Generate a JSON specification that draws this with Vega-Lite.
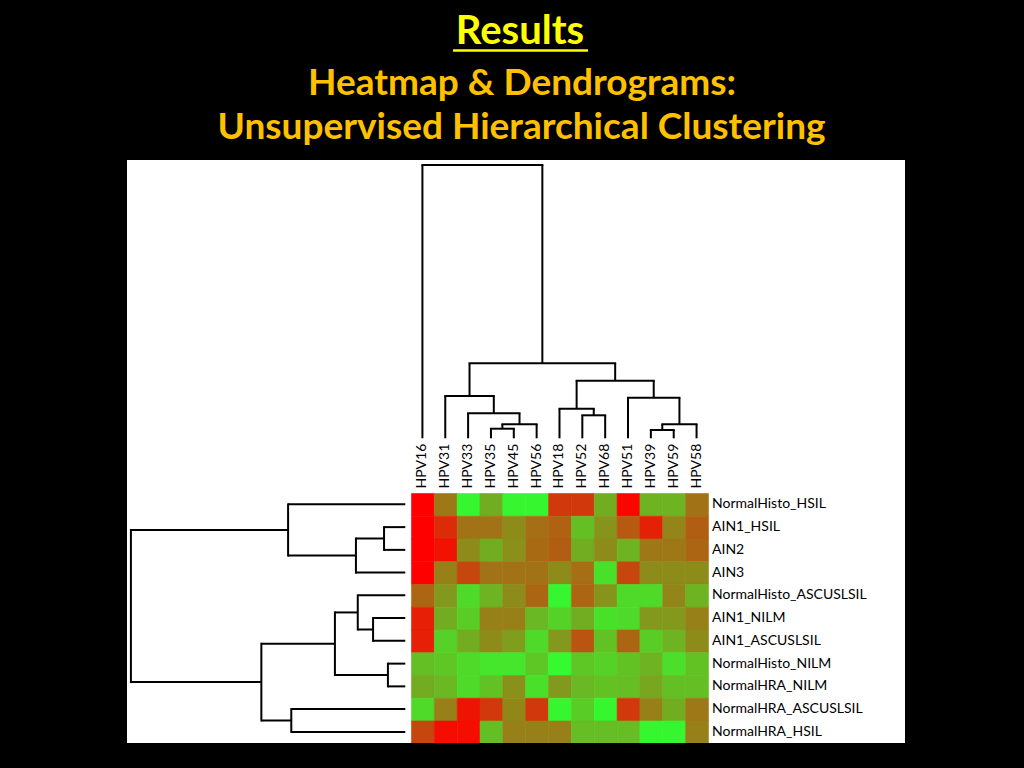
{
  "$schema": "https://vega.github.io/schema/vega-lite/v6.json",
  "width": 778,
  "height": 583,
  "autosize": {"type": "none"},
  "padding": {"left": 127, "top": 160, "right": 119, "bottom": 25},
  "background": "#000000",
  "datasets": {
    "cols": [
      {"col": "HPV16", "ci": 0, "cx": 0.5},
      {"col": "HPV31", "ci": 1, "cx": 1.5},
      {"col": "HPV33", "ci": 2, "cx": 2.5},
      {"col": "HPV35", "ci": 3, "cx": 3.5},
      {"col": "HPV45", "ci": 4, "cx": 4.5},
      {"col": "HPV56", "ci": 5, "cx": 5.5},
      {"col": "HPV18", "ci": 6, "cx": 6.5},
      {"col": "HPV52", "ci": 7, "cx": 7.5},
      {"col": "HPV68", "ci": 8, "cx": 8.5},
      {"col": "HPV51", "ci": 9, "cx": 9.5},
      {"col": "HPV39", "ci": 10, "cx": 10.5},
      {"col": "HPV59", "ci": 11, "cx": 11.5},
      {"col": "HPV58", "ci": 12, "cx": 12.5}
    ],
    "rows": [
      {"row": "NormalHisto_HSIL", "ri": 0, "ry": 0.5},
      {"row": "AIN1_HSIL", "ri": 1, "ry": 1.5},
      {"row": "AIN2", "ri": 2, "ry": 2.5},
      {"row": "AIN3", "ri": 3, "ry": 3.5},
      {"row": "NormalHisto_ASCUSLSIL", "ri": 4, "ry": 4.5},
      {"row": "AIN1_NILM", "ri": 5, "ry": 5.5},
      {"row": "AIN1_ASCUSLSIL", "ri": 6, "ry": 6.5},
      {"row": "NormalHisto_NILM", "ri": 7, "ry": 7.5},
      {"row": "NormalHRA_NILM", "ri": 8, "ry": 8.5},
      {"row": "NormalHRA_ASCUSLSIL", "ri": 9, "ry": 9.5},
      {"row": "NormalHRA_HSIL", "ri": 10, "ry": 10.5}
    ],
    "cells": [
      {"row": "NormalHisto_HSIL", "HPV16": 0, "HPV31": 0.47, "HPV33": 0.97, "HPV35": 0.68, "HPV45": 0.97, "HPV56": 0.97, "HPV18": 0.22, "HPV52": 0.22, "HPV68": 0.68, "HPV51": 0.02, "HPV39": 0.7, "HPV59": 0.7, "HPV58": 0.45},
      {"row": "AIN1_HSIL", "HPV16": 0, "HPV31": 0.17, "HPV33": 0.45, "HPV35": 0.45, "HPV45": 0.55, "HPV56": 0.43, "HPV18": 0.38, "HPV52": 0.75, "HPV68": 0.58, "HPV51": 0.35, "HPV39": 0.13, "HPV59": 0.52, "HPV58": 0.37},
      {"row": "AIN2", "HPV16": 0, "HPV31": 0.07, "HPV33": 0.55, "HPV35": 0.68, "HPV45": 0.57, "HPV56": 0.42, "HPV18": 0.37, "HPV52": 0.68, "HPV68": 0.55, "HPV51": 0.7, "HPV39": 0.47, "HPV59": 0.47, "HPV58": 0.4},
      {"row": "AIN3", "HPV16": 0, "HPV31": 0.5, "HPV33": 0.28, "HPV35": 0.45, "HPV45": 0.45, "HPV56": 0.45, "HPV18": 0.55, "HPV52": 0.43, "HPV68": 0.88, "HPV51": 0.28, "HPV39": 0.55, "HPV59": 0.55, "HPV58": 0.55},
      {"row": "NormalHisto_ASCUSLSIL", "HPV16": 0.4, "HPV31": 0.6, "HPV33": 0.85, "HPV35": 0.7, "HPV45": 0.55, "HPV56": 0.4, "HPV18": 0.97, "HPV52": 0.4, "HPV68": 0.58, "HPV51": 0.85, "HPV39": 0.85, "HPV59": 0.52, "HPV58": 0.7},
      {"row": "AIN1_NILM", "HPV16": 0.12, "HPV31": 0.68, "HPV33": 0.8, "HPV35": 0.5, "HPV45": 0.5, "HPV56": 0.72, "HPV18": 0.82, "HPV52": 0.68, "HPV68": 0.88, "HPV51": 0.85, "HPV39": 0.6, "HPV59": 0.6, "HPV58": 0.5},
      {"row": "AIN1_ASCUSLSIL", "HPV16": 0.12, "HPV31": 0.82, "HPV33": 0.68, "HPV35": 0.55, "HPV45": 0.62, "HPV56": 0.85, "HPV18": 0.6, "HPV52": 0.33, "HPV68": 0.76, "HPV51": 0.4, "HPV39": 0.8, "HPV59": 0.7, "HPV58": 0.55},
      {"row": "NormalHisto_NILM", "HPV16": 0.75, "HPV31": 0.78, "HPV33": 0.85, "HPV35": 0.9, "HPV45": 0.9, "HPV56": 0.78, "HPV18": 0.98, "HPV52": 0.78, "HPV68": 0.82, "HPV51": 0.76, "HPV39": 0.7, "HPV59": 0.87, "HPV58": 0.76},
      {"row": "NormalHRA_NILM", "HPV16": 0.68, "HPV31": 0.72, "HPV33": 0.85, "HPV35": 0.76, "HPV45": 0.57, "HPV56": 0.88, "HPV18": 0.6, "HPV52": 0.72, "HPV68": 0.76, "HPV51": 0.74, "HPV39": 0.65, "HPV59": 0.75, "HPV58": 0.75},
      {"row": "NormalHRA_ASCUSLSIL", "HPV16": 0.85, "HPV31": 0.5, "HPV33": 0.08, "HPV35": 0.22, "HPV45": 0.53, "HPV56": 0.22, "HPV18": 0.97, "HPV52": 0.8, "HPV68": 0.97, "HPV51": 0.22, "HPV39": 0.5, "HPV59": 0.68, "HPV58": 0.47},
      {"row": "NormalHRA_HSIL", "HPV16": 0.28, "HPV31": 0.05, "HPV33": 0.05, "HPV35": 0.75, "HPV45": 0.5, "HPV56": 0.5, "HPV18": 0.5, "HPV52": 0.74, "HPV68": 0.74, "HPV51": 0.74, "HPV39": 0.97, "HPV59": 0.97, "HPV58": 0.5}
    ],
    "colTree": [
      {"l": 3.5, "r": 4.5, "h": -2.826, "lh": -2.404, "rh": -2.404},
      {"l": 4.0, "r": 5.5, "h": -3.02, "lh": -2.826, "rh": -2.404},
      {"l": 2.5, "r": 4.75, "h": -3.503, "lh": -2.404, "rh": -3.02},
      {"l": 1.5, "r": 3.625, "h": -4.264, "lh": -2.404, "rh": -3.503},
      {"l": 7.5, "r": 8.5, "h": -3.415, "lh": -2.404, "rh": -2.404},
      {"l": 6.5, "r": 8.0, "h": -3.705, "lh": -2.404, "rh": -3.415},
      {"l": 10.5, "r": 11.5, "h": -2.769, "lh": -2.404, "rh": -2.404},
      {"l": 11.0, "r": 12.5, "h": -3.02, "lh": -2.769, "rh": -2.404},
      {"l": 9.5, "r": 11.75, "h": -4.189, "lh": -2.404, "rh": -3.02},
      {"l": 7.25, "r": 10.625, "h": -4.936, "lh": -3.705, "rh": -4.189},
      {"l": 2.5625, "r": 8.9375, "h": -5.701, "lh": -4.264, "rh": -4.936},
      {"l": 0.5, "r": 5.75, "h": -14.418, "lh": -2.404, "rh": -5.701}
    ],
    "rowTree": [
      {"l": 1.5, "r": 2.5, "h": -1.18, "lh": -0.25, "rh": -0.25},
      {"l": 2.0, "r": 3.5, "h": -2.41, "lh": -1.18, "rh": -0.25},
      {"l": 0.5, "r": 2.75, "h": -5.38, "lh": -0.25, "rh": -2.41},
      {"l": 5.5, "r": 6.5, "h": -1.66, "lh": -0.25, "rh": -0.25},
      {"l": 4.5, "r": 6.0, "h": -2.33, "lh": -0.25, "rh": -1.66},
      {"l": 7.5, "r": 8.5, "h": -1.01, "lh": -0.25, "rh": -0.25},
      {"l": 5.25, "r": 8.0, "h": -3.33, "lh": -2.33, "rh": -1.01},
      {"l": 9.5, "r": 10.5, "h": -5.24, "lh": -0.25, "rh": -0.25},
      {"l": 6.625, "r": 10.0, "h": -6.55, "lh": -3.33, "rh": -5.24},
      {"l": 1.625, "r": 8.3125, "h": -12.26, "lh": -5.38, "rh": -6.55}
    ]
  },
  "layer": [
    {
      "data": {"name": "cells"},
      "transform": [
        {"fold": ["HPV16", "HPV31", "HPV33", "HPV35", "HPV45", "HPV56", "HPV18", "HPV52", "HPV68", "HPV51", "HPV39", "HPV59", "HPV58"], "as": ["col", "v"]},
        {"lookup": "col", "from": {"data": {"name": "cols"}, "key": "col", "fields": ["ci"]}},
        {"lookup": "row", "from": {"data": {"name": "rows"}, "key": "row", "fields": ["ri"]}}
      ],
      "mark": {"type": "rect", "clip": true, "binSpacing": 0, "strokeWidth": 0.6},
      "encoding": {
        "x": {"field": "ci", "type": "quantitative", "bin": {"binned": true, "step": 1}, "scale": {"domain": [-12.431, 21.624], "nice": false, "zero": false}, "axis": null},
        "y": {"field": "ri", "type": "quantitative", "bin": {"binned": true, "step": 1}, "scale": {"domain": [-14.637, 10.989], "nice": false, "zero": false, "reverse": true}, "axis": null},
        "color": {"field": "v", "type": "quantitative", "scale": {"domain": [0, 1], "range": ["#ff0000", "#30ff30"], "interpolate": "rgb"}, "legend": null},
        "stroke": {"field": "v", "type": "quantitative", "scale": {"domain": [0, 1], "range": ["#ff0000", "#30ff30"], "interpolate": "rgb"}, "legend": null}
      }
    },
    {
      "data": {"name": "colTree"},
      "mark": {"type": "rule", "color": "#000000", "strokeWidth": 2, "strokeCap": "square"},
      "encoding": {
        "x": {"field": "l", "type": "quantitative"},
        "x2": {"field": "r"},
        "y": {"field": "h", "type": "quantitative"}
      }
    },
    {
      "data": {"name": "colTree"},
      "mark": {"type": "rule", "color": "#000000", "strokeWidth": 2},
      "encoding": {
        "x": {"field": "l", "type": "quantitative"},
        "y": {"field": "h", "type": "quantitative"},
        "y2": {"field": "lh"}
      }
    },
    {
      "data": {"name": "colTree"},
      "mark": {"type": "rule", "color": "#000000", "strokeWidth": 2},
      "encoding": {
        "x": {"field": "r", "type": "quantitative"},
        "y": {"field": "h", "type": "quantitative"},
        "y2": {"field": "rh"}
      }
    },
    {
      "data": {"name": "rowTree"},
      "mark": {"type": "rule", "color": "#000000", "strokeWidth": 2, "strokeCap": "square"},
      "encoding": {
        "y": {"field": "l", "type": "quantitative"},
        "y2": {"field": "r"},
        "x": {"field": "h", "type": "quantitative"}
      }
    },
    {
      "data": {"name": "rowTree"},
      "mark": {"type": "rule", "color": "#000000", "strokeWidth": 2},
      "encoding": {
        "y": {"field": "l", "type": "quantitative"},
        "x": {"field": "h", "type": "quantitative"},
        "x2": {"field": "lh"}
      }
    },
    {
      "data": {"name": "rowTree"},
      "mark": {"type": "rule", "color": "#000000", "strokeWidth": 2},
      "encoding": {
        "y": {"field": "r", "type": "quantitative"},
        "x": {"field": "h", "type": "quantitative"},
        "x2": {"field": "rh"}
      }
    },
    {
      "data": {"name": "cols"},
      "mark": {"type": "text", "angle": 270, "align": "left", "baseline": "middle", "font": "Lato", "fontSize": 14, "color": "#000000"},
      "encoding": {
        "x": {"field": "cx", "type": "quantitative"},
        "y": {"datum": -0.2, "type": "quantitative"},
        "text": {"field": "col"}
      }
    },
    {
      "data": {"name": "rows"},
      "mark": {"type": "text", "align": "left", "baseline": "middle", "dx": 4, "font": "Lato", "fontSize": 14, "color": "#000000"},
      "encoding": {
        "x": {"datum": 13, "type": "quantitative"},
        "y": {"field": "ry", "type": "quantitative"},
        "text": {"field": "row"}
      }
    },
    {
      "data": {"values": [{}]},
      "mark": {"type": "text", "align": "center", "baseline": "alphabetic", "font": "Lato", "fontSize": 40, "fontWeight": "bold", "color": "#ffff00"},
      "encoding": {
        "x": {"datum": 4.77, "type": "quantitative"},
        "y": {"datum": -19.75, "type": "quantitative"},
        "text": {"value": "Results"}
      }
    },
    {
      "data": {"values": [{}]},
      "mark": {"type": "rule", "color": "#ffff00", "strokeWidth": 2.5},
      "encoding": {
        "x": {"datum": 1.84, "type": "quantitative"},
        "x2": {"datum": 7.75},
        "y": {"datum": -19.45, "type": "quantitative"}
      }
    },
    {
      "data": {"values": [{}]},
      "mark": {"type": "text", "align": "center", "baseline": "alphabetic", "font": "Lato", "fontSize": 37, "fontWeight": "bold", "color": "#ffc000"},
      "encoding": {
        "x": {"datum": 4.86, "type": "quantitative"},
        "y": {"datum": -17.49, "type": "quantitative"},
        "text": {"value": "Heatmap & Dendrograms:"}
      }
    },
    {
      "data": {"values": [{}]},
      "mark": {"type": "text", "align": "center", "baseline": "alphabetic", "font": "Lato", "fontSize": 37, "fontWeight": "bold", "color": "#ffc000"},
      "encoding": {
        "x": {"datum": 4.84, "type": "quantitative"},
        "y": {"datum": -15.56, "type": "quantitative"},
        "text": {"value": "Unsupervised Hierarchical Clustering"}
      }
    }
  ],
  "config": {
    "view": {"stroke": null, "fill": "#ffffff"}
  }
}
